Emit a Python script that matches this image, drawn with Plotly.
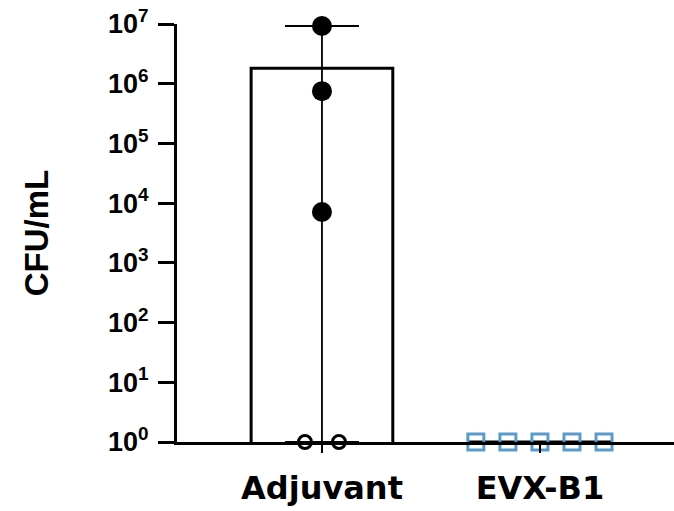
import plotly.graph_objects as go
from collections import Counter

# Data
categories = ["Adjuvant", "EVX-B1"]
adjuvant_values = [9.25e6, 7.5e5, 7.1e3, 1, 1]
evx_values = [1, 1, 1, 1, 1]
bar_values = [1.82e6, 1]
tick_vals = [1, 10, 100, 1e3, 1e4, 1e5, 1e6, 1e7]
tick_text = ["10<sup>%d</sup>" % i for i in range(8)]

groups = [adjuvant_values, evx_values]
maxs = [max(g) for g in groups]
mins = [min(g) for g in groups]

fig = go.Figure()

fig.add_trace(go.Bar(
    x=[0, 1], y=bar_values,
    width=0.65,
    marker=dict(color="white", line=dict(color="black", width=3)),
    error_y=dict(type="data", symmetric=False,
                 array=[mx - m for mx, m in zip(maxs, bar_values)],
                 arrayminus=[m - mn for m, mn in zip(bar_values, mins)],
                 color="black", thickness=1.8, width=37),
    showlegend=False, cliponaxis=False,
))

def spread(vals, center, step):
    # place identical values side by side (beeswarm-like)
    xs = []
    cnt = Counter(vals)
    seen = Counter()
    for v in vals:
        n = cnt[v]
        k = seen[v]
        seen[v] += 1
        xs.append(center + (k - (n - 1) / 2) * step)
    return xs

adj_x = spread(adjuvant_values, 0, 0.156)
filled = [(x, v) for x, v in zip(adj_x, adjuvant_values) if v > 1]
opened = [(x, v) for x, v in zip(adj_x, adjuvant_values) if v <= 1]
fig.add_trace(go.Scatter(
    x=[p[0] for p in filled], y=[p[1] for p in filled], mode="markers",
    marker=dict(symbol="circle", size=20, color="black"),
    showlegend=False, cliponaxis=False))
fig.add_trace(go.Scatter(
    x=[p[0] for p in opened], y=[p[1] for p in opened], mode="markers",
    marker=dict(symbol="circle-open", size=13, color="black", line=dict(width=3)),
    showlegend=False, cliponaxis=False))

evx_x = spread(evx_values, 1, 0.147)
fig.add_trace(go.Scatter(
    x=evx_x, y=evx_values, mode="markers",
    marker=dict(symbol="square-open", size=16, color="#5b9bc8", line=dict(width=3)),
    showlegend=False, cliponaxis=False))

fig.update_layout(
    width=674, height=511,
    margin=dict(l=177, r=0, t=24, b=69),
    plot_bgcolor="white", paper_bgcolor="white",
    font=dict(family="Liberation Sans, Arial", color="black"),
    xaxis=dict(
        range=[-0.665, 1.615],
        tickvals=[0, 1], ticktext=categories,
        tickfont=dict(family="DejaVu Sans", size=32, weight=700, color="black"),
        ticklabelstandoff=8,
        showline=True, linecolor="black", linewidth=3,
        ticks="outside", ticklen=8, tickwidth=2, tickcolor="black",
        showgrid=False, zeroline=False,
    ),
    yaxis=dict(
        type="log", range=[0, 7],
        tickvals=tick_vals, ticktext=tick_text,
        tickfont=dict(family="Liberation Sans", size=27, weight=700, color="black"),
        ticklabelstandoff=4,
        showline=True, linecolor="black", linewidth=3,
        ticks="outside", ticklen=16, tickwidth=3, tickcolor="black",
        showgrid=False, zeroline=False,
        title=dict(text="CFU/mL", font=dict(family="Liberation Sans", size=33, weight=700), standoff=50),
    ),
)

fig.write_html("out.html", config={"displayModeBar": False},
               post_script="document.body.style.margin='0';")
